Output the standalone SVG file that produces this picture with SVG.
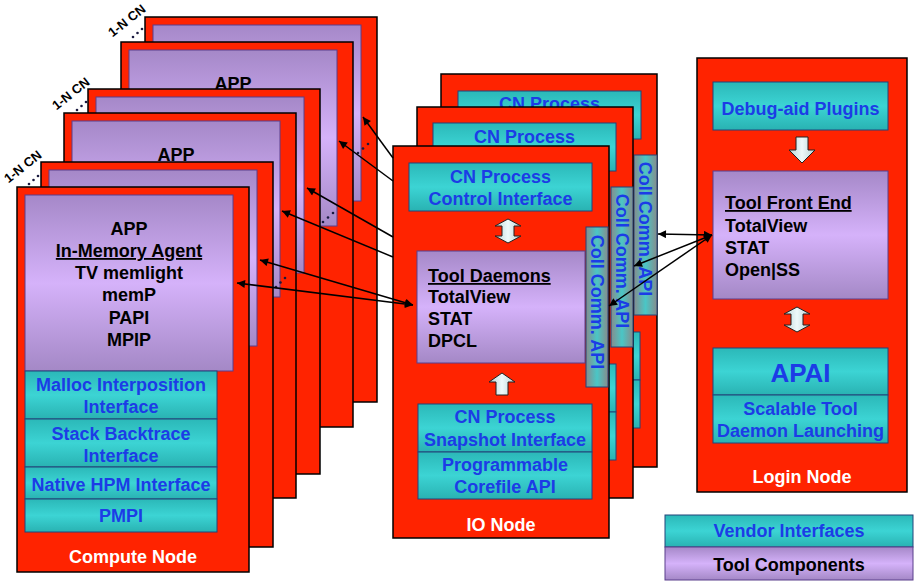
<svg xmlns="http://www.w3.org/2000/svg" width="914" height="582" viewBox="0 0 914 582">
<defs>
<linearGradient id="gPurple" x1="0" y1="0" x2="0" y2="1">
<stop offset="0" stop-color="#a588c8"/><stop offset="0.5" stop-color="#d5b2fa"/><stop offset="1" stop-color="#a488c6"/>
</linearGradient>
<linearGradient id="gCyan" x1="0" y1="0" x2="0" y2="1">
<stop offset="0" stop-color="#2bb8b8"/><stop offset="0.5" stop-color="#3cd4d4"/><stop offset="1" stop-color="#29b2b2"/>
</linearGradient>
<linearGradient id="gStrip" x1="0" y1="0" x2="1" y2="0">
<stop offset="0" stop-color="#878c8c"/><stop offset="0.5" stop-color="#4ac6c6"/><stop offset="1" stop-color="#878c8c"/>
</linearGradient>
<linearGradient id="gBlock" x1="0" y1="0" x2="1" y2="0">
<stop offset="0" stop-color="#b8d4d6"/><stop offset="0.5" stop-color="#eef9fa"/><stop offset="1" stop-color="#b8d4d6"/>
</linearGradient>
<marker id="ah" viewBox="0 0 10 10" refX="10" refY="5" markerWidth="11" markerHeight="8" markerUnits="userSpaceOnUse" orient="auto-start-reverse">
<path d="M0,0 L10,5 L0,10 z" fill="#000"/>
</marker>
<style>
.page{fill:#ff2300;stroke:#000;stroke-width:1.5}
.purple{fill:url(#gPurple);stroke:#5b3f8c;stroke-width:1}
.cyan{fill:url(#gCyan);stroke:#23457a;stroke-width:1}
.strip{fill:url(#gStrip);stroke:#23457a;stroke-width:1}
.blk{fill:url(#gBlock);stroke:#222;stroke-width:1}
text{font-family:"Liberation Sans",Arial,sans-serif;font-weight:bold;font-size:18px}
.tk{fill:#000}
.tm{fill:#000;text-anchor:middle}
.tc{fill:#1c3ce6;text-anchor:middle}
.tw{fill:#fff;text-anchor:middle}
.ul{text-decoration:underline}
.lbl{font-size:13px;fill:#000;text-anchor:middle}
.conn{stroke:#000;stroke-width:1.5;fill:none}
.dot{fill:#1a1a40}
</style>
</defs>
<rect width="914" height="582" fill="#fff"/>

<!-- Compute node stack -->
<g id="cn6"><rect class="page" x="145" y="17" width="232" height="385"/><rect class="purple" x="153" y="25" width="208" height="176"/></g>
<g id="cn5"><rect class="page" x="121" y="42" width="232" height="385"/><rect class="purple" x="129" y="50" width="208" height="176"/><text class="tm" x="233" y="90">APP</text></g>
<g id="cn4"><rect class="page" x="88" y="89" width="232" height="385"/><rect class="purple" x="96" y="97" width="208" height="176"/></g>
<g id="cn3"><rect class="page" x="64" y="113" width="232" height="385"/><rect class="purple" x="72" y="121" width="208" height="176"/><text class="tm" x="176" y="161">APP</text></g>
<g id="cn2"><rect class="page" x="41" y="162" width="232" height="385"/><rect class="purple" x="49" y="170" width="208" height="176"/></g>
<g id="cn1">
<rect class="page" x="17" y="187" width="232" height="385"/>
<rect class="purple" x="25" y="195" width="208" height="176"/>
<text class="tm" x="129" y="235">APP</text>
<text class="tm ul" x="129" y="257">In-Memory Agent</text>
<text class="tm" x="129" y="279">TV memlight</text>
<text class="tm" x="129" y="301">memP</text>
<text class="tm" x="129" y="324">PAPI</text>
<text class="tm" x="129" y="346">MPIP</text>
<rect class="cyan" x="25" y="371" width="192" height="48"/>
<rect class="cyan" x="25" y="419" width="192" height="48"/>
<rect class="cyan" x="25" y="467" width="192" height="32"/>
<rect class="cyan" x="25" y="499" width="192" height="33"/>
<text class="tc" x="121" y="391">Malloc Interposition</text>
<text class="tc" x="121" y="413">Interface</text>
<text class="tc" x="121" y="440">Stack Backtrace</text>
<text class="tc" x="121" y="462">Interface</text>
<text class="tc" x="121" y="491">Native HPM Interface</text>
<text class="tc" x="121" y="522">PMPI</text>
<text class="tw" x="133" y="563">Compute Node</text>
</g>
<g id="cn-labels">
<text class="lbl" transform="translate(127,21) rotate(-38)" x="0" y="4">1-N CN</text>
<text class="lbl" transform="translate(71,94) rotate(-38)" x="0" y="4">1-N CN</text>
<text class="lbl" transform="translate(23,167) rotate(-38)" x="0" y="4">1-N CN</text>
<circle class="dot" cx="133" cy="37" r="1.3"/><circle class="dot" cx="137.5" cy="33" r="1.3"/><circle class="dot" cx="142" cy="29" r="1.3"/>
<circle class="dot" cx="77" cy="110" r="1.3"/><circle class="dot" cx="81.5" cy="106" r="1.3"/><circle class="dot" cx="86" cy="102" r="1.3"/>
<circle class="dot" cx="29" cy="184" r="1.3"/><circle class="dot" cx="33.5" cy="180" r="1.3"/><circle class="dot" cx="38" cy="176" r="1.3"/>
<circle class="dot" cx="358" cy="153" r="1.3"/><circle class="dot" cx="363" cy="148.5" r="1.3"/><circle class="dot" cx="368" cy="144" r="1.3"/>
<circle class="dot" cx="323" cy="222" r="1.3"/><circle class="dot" cx="328" cy="217.5" r="1.3"/><circle class="dot" cx="333" cy="213" r="1.3"/>
<circle class="dot" cx="276" cy="287" r="1.3"/><circle class="dot" cx="280.5" cy="282.5" r="1.3"/><circle class="dot" cx="285" cy="278" r="1.3"/>
</g>

<!-- IO node stack -->
<g id="io3">
<rect class="page" x="441" y="74" width="216" height="393"/>
<rect class="cyan" x="458" y="91" width="183" height="48"/>
<text class="tc" x="549.5" y="110">CN Process</text>
<rect class="cyan" x="466" y="332" width="174" height="48"/>
<rect class="cyan" x="466" y="380" width="174" height="48"/>
<rect class="strip" x="634" y="155" width="23" height="160"/>
<text class="tc" transform="translate(645.5,229) rotate(90)" x="0" y="6.5">Coll Comm. API</text>
</g>
<g id="io2">
<rect class="page" x="417" y="107" width="216" height="391"/>
<rect class="cyan" x="433" y="123" width="183" height="48"/>
<text class="tc" x="524.5" y="143">CN Process</text>
<rect class="cyan" x="442" y="364" width="174" height="48"/>
<rect class="cyan" x="442" y="412" width="174" height="48"/>
<rect class="strip" x="611" y="187" width="22" height="160"/>
<text class="tc" transform="translate(622,261) rotate(90)" x="0" y="6.5">Coll Comm. API</text>
</g>
<g id="io1">
<rect class="page" x="393" y="146" width="216" height="392"/>
<rect class="cyan" x="409" y="163" width="183" height="48"/>
<text class="tc" x="500.5" y="183">CN Process</text>
<text class="tc" x="500.5" y="205">Control Interface</text>
<path class="blk" d="M508,219 L521,226 H514 V236 H521 L508,243 L495,236 H502 V226 H495 Z"/>
<rect class="purple" x="417" y="251" width="168" height="112"/>
<text class="tk ul" x="428" y="282">Tool Daemons</text>
<text class="tk" x="428" y="303">TotalView</text>
<text class="tk" x="428" y="325">STAT</text>
<text class="tk" x="428" y="347">DPCL</text>
<rect class="strip" x="586" y="227" width="22" height="160"/>
<text class="tc" transform="translate(597,302) rotate(90)" x="0" y="6.5">Coll Comm. API</text>
<path class="blk" d="M502,373 L515,382 H508 V395 H496 V382 H489 Z"/>
<rect class="cyan" x="418" y="404" width="174" height="48"/>
<rect class="cyan" x="418" y="452" width="174" height="47"/>
<text class="tc" x="505" y="423">CN Process</text>
<text class="tc" x="505" y="446">Snapshot Interface</text>
<text class="tc" x="505" y="471">Programmable</text>
<text class="tc" x="505" y="493">Corefile API</text>
<text class="tw" x="501" y="531">IO Node</text>
</g>

<!-- Login node -->
<g id="login">
<rect class="page" x="697" y="58" width="210" height="434"/>
<rect class="cyan" x="713" y="82" width="175" height="48"/>
<text class="tc" x="800.5" y="115">Debug-aid Plugins</text>
<path class="blk" d="M796,137 H808 V150 H815 L802,163 L789,150 H796 Z"/>
<rect class="purple" x="713" y="171" width="175" height="128"/>
<text class="tk ul" x="725" y="209">Tool Front End</text>
<text class="tk" x="725" y="232">TotalView</text>
<text class="tk" x="725" y="254">STAT</text>
<text class="tk" x="725" y="276">Open|SS</text>
<path class="blk" d="M797,307 L810,314 H803 V325 H810 L797,332 L784,325 H791 V314 H784 Z"/>
<rect class="cyan" x="713" y="348" width="175" height="47"/>
<text class="tc" x="800.5" y="382" style="font-size:26px">APAI</text>
<rect class="cyan" x="713" y="395" width="175" height="48"/>
<text class="tc" x="800.5" y="415">Scalable Tool</text>
<text class="tc" x="800.5" y="437">Daemon Launching</text>
<text class="tw" x="802" y="483">Login Node</text>
</g>

<!-- Legend -->
<g id="legend">
<rect class="cyan" x="665" y="515" width="248" height="32"/>
<text class="tc" x="789" y="537">Vendor Interfaces</text>
<rect class="purple" x="665" y="547" width="248" height="33"/>
<text class="tm" x="789" y="571">Tool Components</text>
</g>

<!-- Connectors -->
<g id="connectors">
<line class="conn" x1="393" y1="158" x2="363" y2="117" marker-end="url(#ah)"/>
<line class="conn" x1="393" y1="181" x2="339" y2="141" marker-end="url(#ah)"/>
<line class="conn" x1="393" y1="237" x2="307" y2="188" marker-end="url(#ah)"/>
<line class="conn" x1="393" y1="257" x2="282" y2="211" marker-end="url(#ah)"/>
<line class="conn" x1="413" y1="305" x2="260" y2="260" marker-start="url(#ah)" marker-end="url(#ah)"/>
<line class="conn" x1="413" y1="305" x2="237" y2="283" marker-start="url(#ah)" marker-end="url(#ah)"/>
<line class="conn" x1="712" y1="235" x2="658" y2="234" marker-start="url(#ah)" marker-end="url(#ah)"/>
<line class="conn" x1="712" y1="235" x2="634" y2="266" marker-start="url(#ah)" marker-end="url(#ah)"/>
<line class="conn" x1="712" y1="235" x2="609" y2="306" marker-start="url(#ah)" marker-end="url(#ah)"/>
</g>
</svg>
